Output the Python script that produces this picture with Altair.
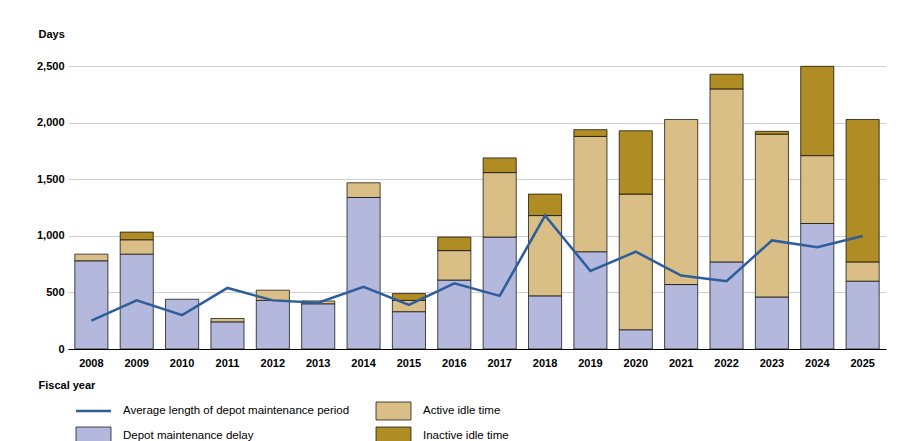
import pandas as pd
import altair as alt

years = [str(y) for y in range(2008, 2026)]
delay = [780, 839, 440, 240, 430, 400, 1340, 330, 610, 990, 470, 860, 170, 570, 770, 460, 1110, 600]
active = [59, 127, 0, 30, 90, 25, 130, 100, 260, 570, 710, 1020, 1200, 1460, 1530, 1440, 600, 170]
inactive = [0, 68, 0, 0, 0, 0, 0, 60, 120, 130, 190, 60, 560, 0, 130, 25, 790, 1260]
avg_length = [250, 430, 300, 540, 430, 410, 550, 390, 580, 470, 1180, 690, 860, 650, 600, 960, 900, 1000]

COLORS = {'Depot maintenance delay': '#b3b8dc', 'Active idle time': '#d9bf85', 'Inactive idle time': '#b08c24'}
LINE_COLOR = '#2e5d9b'

rows = []
for i, y in enumerate(years):
    base = 0
    for cat, vals in [('Depot maintenance delay', delay), ('Active idle time', active), ('Inactive idle time', inactive)]:
        if vals[i] > 0:
            rows.append({'Year': y, 'Category': cat, 'lo': base, 'hi': base + vals[i]})
            base += vals[i]
bars_df = pd.DataFrame(rows)
line_df = pd.DataFrame({'Year': years, 'Avg': avg_length})

xenc = alt.X('Year:N', sort=years, scale=alt.Scale(paddingInner=0.27, paddingOuter=0.15),
             axis=alt.Axis(title='Fiscal year', titleAnchor='start', titleX=-30, titleY=30,
                           titleFontWeight='bold', labelAngle=0, labelFontWeight='bold',
                           labelFontSize=11, titleFontSize=11, domainColor='black', ticks=False,
                           labelPadding=8))

bars = alt.Chart(bars_df).mark_bar(stroke='black', strokeWidth=0.7).encode(
    x=xenc,
    y=alt.Y('lo:Q', scale=alt.Scale(domain=[0, 2500]),
            axis=alt.Axis(title='Days', titleAngle=0, titleAnchor='end', titleX=-30, titleY=-16,
                          titleAlign='left', titleFontWeight='bold', titleFontSize=11,
                          values=[0, 500, 1000, 1500, 2000, 2500], format=',.0f', domain=False,
                          ticks=False, labelFontWeight='bold', labelFontSize=11,
                          gridColor='#d0d0d0', labelPadding=4)),
    y2='hi:Q',
    color=alt.Color('Category:N', scale=alt.Scale(domain=list(COLORS), range=list(COLORS.values())), legend=None)
)

line = alt.Chart(line_df).mark_line(color=LINE_COLOR, strokeWidth=2.5).encode(
    x=alt.X('Year:N', sort=years), y='Avg:Q')

main = (bars + line).properties(width=818, height=294)

# legend panel
leg_df = pd.DataFrame({
    'label': ['Average length of depot maintenance period', 'Active idle time',
              'Depot maintenance delay', 'Inactive idle time'],
    'kind': ['line', 'Active idle time', 'Depot maintenance delay', 'Inactive idle time'],
    'x0': [8, 308, 8, 308], 'x1': [43, 343, 43, 343],
    'y': [19, 19, 44, 44], 'y0': [10, 10, 35, 35], 'y1': [28, 28, 53, 53]})
xs = alt.Scale(domain=[0, 818])
ys = alt.Scale(domain=[55, 0])
boxes = leg_df[leg_df.kind != 'line']
sq = alt.Chart(boxes).mark_rect(stroke='black', strokeWidth=0.7).encode(
    x=alt.X('x0:Q', scale=xs, axis=None), x2='x1:Q',
    y=alt.Y('y0:Q', scale=ys, axis=None), y2='y1:Q',
    color=alt.Color('kind:N', scale=alt.Scale(domain=list(COLORS), range=list(COLORS.values())), legend=None))
ln = alt.Chart(leg_df[leg_df.kind == 'line']).mark_rule(color=LINE_COLOR, strokeWidth=2.5).encode(
    x=alt.X('x0:Q', scale=xs, axis=None), x2='x1:Q', y=alt.Y('y:Q', scale=ys, axis=None))
txt = alt.Chart(leg_df).mark_text(align='left', dx=12, fontSize=11.5).encode(
    x=alt.X('x1:Q', scale=xs, axis=None), y=alt.Y('y:Q', scale=ys, axis=None), text='label:N')
legend = (sq + ln + txt).properties(width=818, height=55)

src = alt.Chart(pd.DataFrame({'t': ['Source: GAO analysis of Navy data.  |  GAO-26-109256']})).mark_text(
    align='left', fontSize=10).encode(x=alt.value(-30), y=alt.value(4), text='t:N').properties(width=818, height=8)

chart = alt.vconcat(main, legend, src, spacing=2).configure(
    font='Liberation Sans', padding={'left': 28, 'top': 20, 'right': 5, 'bottom': 0}
).configure_view(stroke=None)

chart.save("out.html", embed_options={"renderer": "svg", "actions": False})
